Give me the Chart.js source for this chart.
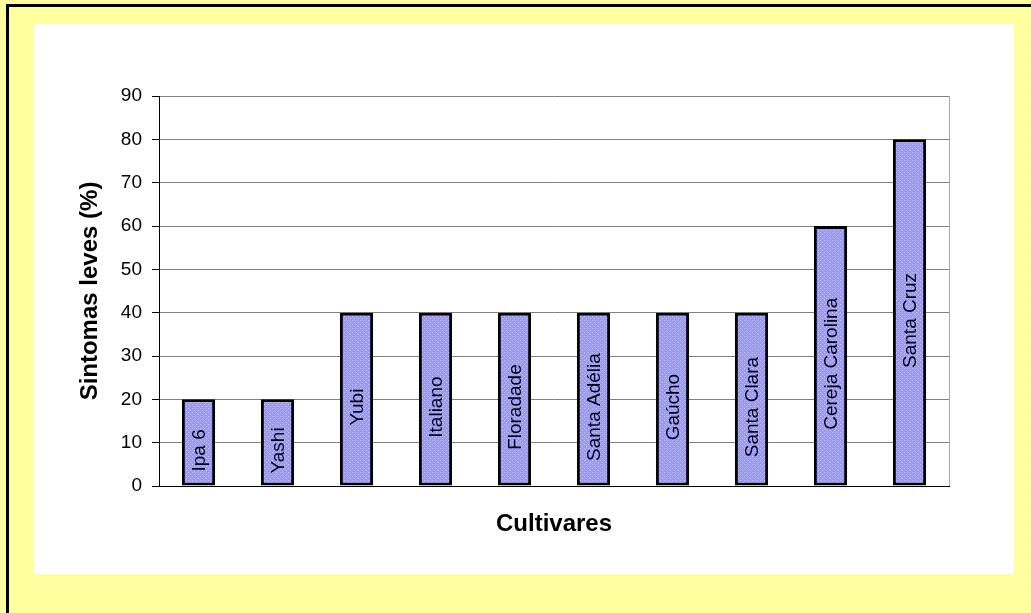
<!DOCTYPE html>
<html>
<head>
<meta charset="utf-8">
<title>Sintomas leves por cultivar</title>
<script src="https://cdn.jsdelivr.net/npm/chart.js@4.4.0/dist/chart.umd.min.js"></script>
<style>
  body { margin: 0; background: #ffffff; }
  #chartBox { width: 1031px; height: 613px; }
</style>
</head>
<body>
<div id="chartBox"><canvas id="myBarChart" width="1031" height="613"></canvas></div>
<script>
// dados
var cultivares = ['Ipa 6', 'Yashi', 'Yubi', 'Italiano', 'Floradade', 'Santa Adélia', 'Gaúcho', 'Santa Clara', 'Cereja Carolina', 'Santa Cruz'];
var sintomasLeves = [20, 20, 40, 40, 40, 40, 40, 40, 60, 80];
var yMin = 0, yMax = 90, yStep = 10;
var yTitle = 'Sintomas leves (%)';
var xTitle = 'Cultivares';

var fontFamily = "'Liberation Sans', Arial, sans-serif";

// padrao pontilhado (como no Excel)
function makePattern(base, dot){
   var c = document.createElement('canvas');
   c.width = 4; c.height = 4;
   var g = c.getContext('2d');
   g.fillStyle = base;
   g.fillRect(0, 0, 4, 4);
   g.fillStyle = dot;
   g.fillRect(0, 0, 1, 1);
   g.fillRect(2, 2, 1, 1);
   return document.getElementById('myBarChart').getContext('2d').createPattern(c, 'repeat');
}

var barFill = makePattern('#9999ff', '#c8c8ff');
var yellowFill = makePattern('#ffff99', '#ffffcc');

// fundo amarelo, moldura preta e area branca
var backgroundPlugin = {
   id: 'fundo',
   beforeDraw: function(chart){
      var ctx = chart.ctx;
      ctx.save();
      ctx.fillStyle = yellowFill;
      ctx.fillRect(0, 0, chart.width, chart.height);
      ctx.fillStyle = '#000000';
      ctx.fillRect(6, 4, 3, chart.height - 4);
      ctx.fillRect(6, 4, chart.width - 6, 3);
      ctx.fillStyle = '#ffffff';
      ctx.fillRect(34, 24, 980, 550);
      ctx.restore();
   },
   beforeDatasetsDraw: function(chart){
      // borda direita cinza da area do grafico
      var a = chart.chartArea, ctx = chart.ctx;
      ctx.save();
      ctx.strokeStyle = '#a8a8a8';
      ctx.lineWidth = 1;
      ctx.beginPath();
      ctx.moveTo(Math.round(a.right) + 0.5, a.top);
      ctx.lineTo(Math.round(a.right) + 0.5, a.bottom);
      ctx.stroke();
      ctx.restore();
   }
};

// nome da cultivar escrito na vertical dentro da barra
var barLabelPlugin = {
   id: 'rotulosBarra',
   afterDatasetsDraw: function(chart){
      var ctx = chart.ctx;
      var meta = chart.getDatasetMeta(0);
      ctx.save();
      ctx.font = '19px ' + fontFamily;
      ctx.fillStyle = '#000000';
      ctx.textAlign = 'center';
      ctx.textBaseline = 'middle';
      meta.data.forEach(function(bar, i){
         var cy = (bar.y + bar.base) / 2 + 8;
         ctx.save();
         ctx.translate(bar.x + 1, cy);
         ctx.rotate(-Math.PI / 2);
         ctx.fillText(chart.data.labels[i], 0, 0);
         ctx.restore();
      });
      ctx.restore();
   }
};

var chartData = {
   labels: cultivares,
   datasets: [{
      label: yTitle,
      data: sintomasLeves,
      backgroundColor: barFill,
      borderColor: '#000000',
      borderWidth: 3,
      borderSkipped: false,
      barPercentage: 0.42,
      categoryPercentage: 1
   }]
};

var chartOptions = {
   responsive: false,
   animation: false,
   devicePixelRatio: 1,
   layout: { padding: { left: 76, right: 82, top: 96, bottom: 74 } },
   plugins: {
      legend: { display: false },
      tooltip: { enabled: false }
   },
   scales: {
      x: {
         ticks: { display: false },
         grid: { display: false },
         border: { display: true, color: '#000000', width: 1 },
         title: {
            display: true,
            text: xTitle,
            color: '#000000',
            font: { family: fontFamily, size: 24, weight: 'bold' },
            padding: 0
         },
         afterFit: function(scale){ scale.height = 53; }
      },
      y: {
         min: yMin,
         max: yMax,
         ticks: {
            stepSize: yStep,
            color: '#000000',
            padding: 10,
            font: { family: fontFamily, size: 19 }
         },
         grid: {
            color: '#808080',
            lineWidth: 1,
            tickColor: '#000000',
            tickLength: 7
         },
         border: { display: true, color: '#000000', width: 1 },
         title: {
            display: true,
            text: yTitle,
            color: '#000000',
            font: { family: fontFamily, size: 24, weight: 'bold' },
            padding: 0
         },
         afterFit: function(scale){ scale.width = 83; }
      }
   }
};

function makeChartBar(){
   var ctx = document.getElementById('myBarChart').getContext('2d');
   new Chart(ctx, {
      type: 'bar',
      data: chartData,
      options: chartOptions,
      plugins: [backgroundPlugin, barLabelPlugin]
   });
}

makeChartBar();
</script>
</body>
</html>
